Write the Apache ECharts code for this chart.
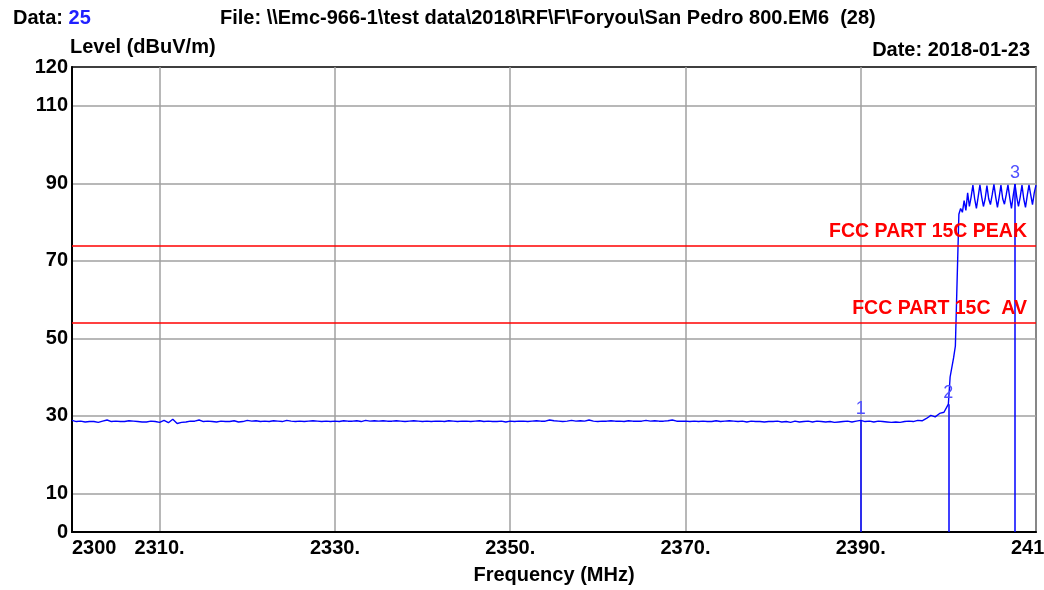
<!DOCTYPE html>
<html>
<head>
<meta charset="utf-8">
<script src="https://cdn.jsdelivr.net/npm/echarts@6/dist/echarts.min.js"></script>
<style>
html,body{margin:0;padding:0;background:#fff;}
#chart{width:1044px;height:590px;}
</style>
</head>
<body>
<div id="chart"></div>
<script>
// ---- Data ----
// Sweep A: 2300.0 .. 2400.0 MHz, 0.5 MHz step
const sweepAStart = 2300, sweepAStep = 0.5;
const levelsA = [
  28.8,28.5,28.6,28.4,28.5,28.5,28.3,28.6,28.9,28.5,28.6,28.5,28.5,28.7,28.6,28.5,28.4,28.4,28.6,28.5,
  28.3,28.8,28.2,29.1,28.0,28.3,28.4,28.6,28.6,28.9,28.5,28.6,28.5,28.4,28.6,28.5,28.5,28.7,28.4,28.5,
  28.8,28.6,28.7,28.5,28.6,28.5,28.7,28.6,28.5,28.8,28.6,28.5,28.6,28.5,28.6,28.7,28.6,28.5,28.6,28.5,
  28.6,28.5,28.7,28.6,28.6,28.7,28.5,28.8,28.6,28.7,28.6,28.7,28.6,28.6,28.7,28.6,28.5,28.6,28.7,28.6,
  28.5,28.6,28.5,28.6,28.6,28.5,28.7,28.6,28.5,28.6,28.6,28.5,28.6,28.7,28.5,28.6,28.5,28.5,28.6,28.4,
  28.6,28.5,28.6,28.6,28.5,28.6,28.7,28.6,28.6,28.9,28.7,28.6,28.5,28.6,28.8,28.6,28.7,28.6,28.9,28.6,
  28.5,28.6,28.6,28.7,28.6,28.6,28.5,28.7,28.6,28.6,28.6,28.8,28.6,28.7,28.6,28.6,28.7,28.9,28.6,28.6,
  28.6,28.5,28.6,28.5,28.6,28.5,28.5,28.7,28.5,28.6,28.7,28.6,28.5,28.6,28.4,28.6,28.5,28.5,28.4,28.5,
  28.5,28.6,28.4,28.5,28.3,28.6,28.4,28.5,28.6,28.4,28.6,28.5,28.4,28.5,28.3,28.4,28.5,28.6,28.4,28.6,
  28.8,28.5,28.6,28.4,28.6,28.5,28.4,28.3,28.4,28.3,28.5,28.6,28.5,28.8,28.7,29.3,30.1,29.7,30.6,30.9,
  33.0
];
// Sweep B: 2400.2 .. 2410.0 MHz, 0.2 MHz step
const sweepBStart = 2400.2, sweepBStep = 0.2;
const levelsB = [
  40.0,40.2,45.0,48.0,48.5,82.0,83.5,82.5,85.5,83.0,
  87.5,84.0,86.5,89.5,86.0,83.5,86.5,89.6,86.5,84.0,
  86.0,89.4,86.0,84.5,87.0,89.7,86.5,83.8,86.5,89.5,
  86.0,84.6,87.0,89.6,86.3,83.5,86.8,89.8,86.5,84.0,
  86.5,89.5,86.0,83.8,86.8,89.6,87.0,84.5,87.5,89.5
];
// Markers
const markerNames = ['1','2','3'];
const markerFreqs = [2390, 2400, 2407.6];
const markerLevels = [28.8, 33.0, 89.8];
// Limit lines
const limitNames = ['FCC PART 15C PEAK', 'FCC PART 15C  AV'];
const limitLevels = [74, 54];
// Ticks
const yTickLabels = [0,10,30,50,70,90,110,120];
const xTickLabels = {2300:'2300',2310:'2310.',2330:'2330.',2350:'2350.',2370:'2370.',2390:'2390.',2410:'2410.'};

// ---- Build ----
const traceData = [];
levelsA.forEach((v,i)=>traceData.push([+(sweepAStart + i*sweepAStep).toFixed(2), v]));
levelsB.forEach((v,i)=>traceData.push([+(sweepBStart + i*sweepBStep).toFixed(2), v]));

const FONT = 'Liberation Sans, Arial, sans-serif';
const markerLineData = markerNames.map((n,i)=>[
  {coord:[markerFreqs[i],0], symbol:'none'},
  {coord:[markerFreqs[i],markerLevels[i]], symbol:'none',
   label:{show:true, formatter:n, position:'end', distance:2,
          color:'#5050ff', fontSize:18, fontFamily:FONT}}
]);
const limitLineData = limitNames.map((n,i)=>({
  yAxis: limitLevels[i],
  label:{show:true, formatter:n, position:'insideEndTop', distance:[9,4],
         color:'#ff0000', fontSize:19.5, fontWeight:'bold', fontFamily:FONT}
}));

const chart = echarts.init(document.getElementById('chart'), null, {renderer:'canvas'});
chart.setOption({
  animation:false,
  backgroundColor:'#fff',
  title:[
    {text:'Data: {b|25}', left:8, top:3,
     textStyle:{fontSize:20, fontWeight:'bold', color:'#000', fontFamily:FONT,
       rich:{b:{fontSize:20, fontWeight:'bold', color:'#2020ff', fontFamily:FONT}}}},
    {text:'File: \\\\Emc-966-1\\test data\\2018\\RF\\F\\Foryou\\San Pedro 800.EM6  (28)', left:215, top:3,
     textStyle:{fontSize:20, fontWeight:'bold', color:'#000', fontFamily:FONT}},
    {text:'Date: 2018-01-23', right:9, top:35,
     textStyle:{fontSize:20, fontWeight:'bold', color:'#000', fontFamily:FONT}}
  ],
  grid:{left:72, right:8, top:67, bottom:58, show:true, borderColor:'#000', borderWidth:1.5,
        containLabel:false, outerBoundsMode:'none'},
  xAxis:{
    type:'value', min:2300, max:2410, interval:10,
    name:'Frequency (MHz)', nameLocation:'middle', nameGap:33,
    nameTextStyle:{fontSize:20, fontWeight:'bold', color:'#000', fontFamily:FONT},
    axisLine:{show:true, onZero:false, lineStyle:{color:'#000', width:2}},
    axisTick:{show:false},
    axisLabel:{fontSize:20, fontWeight:'bold', color:'#000', fontFamily:FONT, margin:6,
      alignMinLabel:'left', hideOverlap:false,
      formatter:v=>xTickLabels[v]||''},
    splitLine:{show:true, lineStyle:{color:['rgba(0,0,0,0)','#a0a0a0'], width:1.5}}
  },
  yAxis:{
    type:'value', min:0, max:120, interval:10,
    name:'Level (dBuV/m)', nameLocation:'end', nameGap:5,
    nameTextStyle:{fontSize:20, fontWeight:'bold', color:'#000', fontFamily:FONT, align:'left', padding:[0,0,0,-2]},
    axisLine:{show:true, onZero:false, lineStyle:{color:'#000', width:2}},
    axisTick:{show:false},
    axisLabel:{fontSize:20, fontWeight:'bold', color:'#000', fontFamily:FONT, margin:4,
      formatter:v=>yTickLabels.indexOf(v)>=0?String(v):''},
    splitLine:{show:true, lineStyle:{color:['rgba(0,0,0,0)','#a0a0a0'], width:1.5}}
  },
  series:[
    {type:'line', data:traceData, showSymbol:false, symbol:'none',
     lineStyle:{color:'#0000ff', width:1.4}, z:3,
     markLine:{silent:true, symbol:['none','none'], animation:false,
       lineStyle:{color:'#0000ff', width:1.5, type:'solid'},
       data:markerLineData}},
    {type:'line', data:[], markLine:{silent:true, symbol:['none','none'], animation:false,
       lineStyle:{color:'#ff0000', width:1.5, type:'solid'},
       data:limitLineData}, z:2}
  ]
});
</script>
</body>
</html>
